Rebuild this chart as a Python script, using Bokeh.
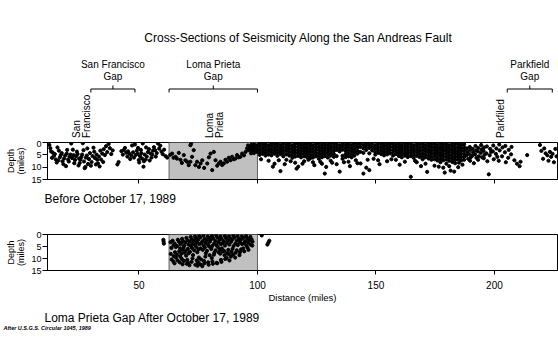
import math
from bokeh.plotting import figure
from bokeh.layouts import column
from bokeh.models import Range1d, FixedTicker, ColumnDataSource
from bokeh.embed import file_html
from bokeh.resources import INLINE
from bokeh.core.properties import value

FONT = "Liberation Sans"

# ---------------- texts ----------------
title_text = "Cross-Sections of Seismicity Along the San Andreas Fault"
before_caption = "Before October 17, 1989"
after_caption = "Loma Prieta Gap After October 17, 1989"
source_note = "After U.S.G.S. Circular 1045, 1989"
x_axis_title = "Distance (miles)"
y_axis_title = "Depth\n(miles)"

# ---------------- axes ----------------
dist_ticks = [50, 100, 150, 200]
depth_ticks = [0, 5, 10, 15]
dist_min, dist_max = 11.4, 226.6
depth_max = 15

# ---------------- seismic gaps & places ----------------
gap_label_line1 = ["San Francisco", "Loma Prieta", "Parkfield"]
gap_label_line2 = ["Gap", "Gap", "Gap"]
gap_start = [29.7, 62.7, 205.4]
gap_end = [48.3, 100.0, 224.4]

place_lines = [["San", "Francisco"], ["Loma", "Prieta"], ["Parkfiled"]]
place_dist = [25.7, 82.0, 202.7]

loma_gap_start, loma_gap_end = 62.7, 100.0

# ---------------- earthquakes before Oct 17, 1989 (distance, depth) ----------------
sf_before = [(12.2,1.0),(12.6,2.3),(12.9,3.6),(13.3,6.2),(13.6,4.1),(14.1,5.4),(14.5,4.7),(14.9,6.9),
             (15.3,8.1),(15.6,2.0),(15.9,7.3),(16.2,3.3),(16.6,6.0),(17.0,5.1),(17.4,4.3),(17.7,7.6),
             (18.1,8.8),(18.4,6.5),(18.8,5.3),(19.2,9.6),(19.5,4.5),(19.7,3.0),(20.1,6.9),(20.4,7.7),
             (20.7,5.7),(21.1,4.9),(21.4,0.4),(21.8,6.3),(22.1,2.9),(22.4,5.1),(22.7,8.4),(23.0,7.1),
             (23.4,5.6),(23.8,3.7),(24.1,4.7),(24.5,9.3),(24.7,6.5),(25.0,8.3),(25.3,7.0),(25.7,5.9),
             (26.0,4.9),(26.3,0.3),(26.6,3.1),(26.8,7.7),(27.1,10.4),(27.4,9.9),(27.6,6.1),(28.0,5.3),
             (28.2,2.4),(28.5,8.7),(28.9,6.7),(29.3,4.3),(29.7,9.4),(30.0,7.9),(30.4,5.5),(30.8,2.1),
             (31.1,3.7),(31.4,6.3),(31.8,8.9),(32.1,4.9),(32.4,7.0),(32.7,8.5),(33.1,5.7),(33.4,9.7),
             (33.7,3.3),(34.0,6.9),(34.5,4.5),(34.9,7.9),(35.1,2.7),(35.6,5.1),(36.1,1.5),(36.6,3.9),
             (37.2,0.6),(37.7,2.3),(38.3,4.7),(38.9,3.2)]

mid_before = [(40.9,8.9),(41.4,7.9),(42.6,3.5),(43.2,4.9),(43.6,3.0),(44.1,2.2),(44.6,4.1),(45.1,5.7),
              (45.4,3.6),(45.9,4.5),(46.3,6.7),(46.8,5.3),(47.1,1.2),(47.5,4.0),(47.9,6.1),(48.3,0.8),
              (48.7,5.0),(49.1,3.3),(49.4,4.6),(49.6,2.2),(49.9,7.1),(50.1,8.1),(50.4,5.5),(50.8,3.0),
              (51.0,4.3),(51.3,6.5),(51.6,0.4),(51.9,9.8),(52.1,7.6),(52.4,4.9),(52.8,6.9),(53.0,2.0),
              (53.3,5.7),(53.8,3.9),(54.2,2.7),(54.5,7.3),(54.9,4.5),(55.3,6.1),(55.6,4.9),(55.9,3.3),
              (56.3,1.9),(56.8,3.1),(57.1,5.7),(57.5,4.3),(58.0,0.4),(58.5,2.5),(59.0,1.3),(59.5,3.7),
              (60.0,4.7),(60.6,2.9),(61.2,5.5),(61.9,6.1)]

lp_before = [(63.2,5.0),(64.0,4.5),(64.6,6.2),(65.4,5.8),(66.0,6.5),(66.8,4.2),(67.5,7.0),(68.1,8.3),
             (68.9,5.1),(69.6,7.2),(70.3,7.8),(71.0,9.2),(71.7,7.8),(71.7,1.1),(72.0,0.4),(72.4,5.8),
             (73.1,3.1),(73.8,9.2),(74.5,7.8),(75.3,9.9),(76.0,8.5),(76.7,7.2),(77.5,10.3),(78.8,8.5),
             (79.5,6.0),(80.2,4.5),(80.9,11.2),(81.6,3.8),(82.3,7.2),(83.0,9.4),(83.7,8.5),(84.4,7.8),
             (85.1,9.1),(85.8,8.5),(86.5,7.0),(87.2,7.8),(87.9,6.2),(88.6,7.2),(89.3,5.8),(90.0,6.8),
             (90.7,6.5),(91.4,5.1),(92.1,6.0),(92.8,5.8),(93.5,4.5),(94.3,5.2),(95.0,3.8),(95.6,2.4),
             (96.3,3.1),(97.0,1.8),(97.3,4.4),(97.8,3.8),(98.2,2.4),(96.0,1.2),(96.8,2.6),(97.5,0.8),
             (98.0,3.3)]

# dense central band, written as (distance, [depths at that distance])
band_west = [(98.5,[0.6,1.9,3.2,4.3]),(99.7,[1.2,2.5,3.8]),(100.9,[0.4,1.6,2.9,4.1,5.0]),
             (102.2,[0.9,2.2,3.4,4.6]),(103.4,[0.5,1.7,3.0,4.2,5.3]),(104.7,[1.1,2.4,3.6,4.9,7.4]),
             (105.9,[0.3,1.5,2.8,4.0,5.2]),(107.2,[0.8,2.1,3.3,4.5,8.6]),(108.4,[0.4,1.6,2.9,4.1,5.4]),
             (109.7,[1.0,2.3,3.5,4.7,11.6]),(110.9,[0.5,1.8,3.1,4.3,5.6]),(112.2,[0.9,2.2,3.4,4.8,7.0]),
             (113.4,[0.3,1.5,2.7,4.0,5.3]),(114.7,[1.1,2.4,3.6,4.9,6.2]),(115.9,[0.6,1.9,3.2,4.4,5.7,8.2]),
             (117.2,[0.4,1.6,2.9,4.1,5.4,9.8]),(118.4,[1.0,2.3,3.5,4.8,6.0]),(119.7,[0.5,1.8,3.0,4.3,5.6,7.6]),
             (120.9,[0.8,2.1,3.4,4.6,5.9]),(122.2,[0.3,1.5,2.8,4.0,5.2,6.4]),(123.4,[1.1,2.4,3.7,4.9,6.1,8.0]),
             (124.7,[0.6,1.9,3.1,4.4,5.6]),(125.9,[0.4,1.7,2.9,4.2,5.4,6.6]),(127.2,[0.9,2.2,3.5,4.7,6.0,8.6]),
             (128.4,[0.5,1.8,3.0,4.3,5.5,12.6]),(129.7,[1.0,2.3,3.6,4.8,6.1]),(130.9,[0.3,1.6,2.8,4.1,5.3,7.4]),
             (132.2,[0.8,2.1,3.4,4.6,5.8]),(133.4,[0.5,1.7,3.0,5.5,8.8]),(134.7,[1.1,2.4,3.6,11.8]),
             (135.9,[0.4,1.6,2.9,5.4,6.6]),(137.2,[0.9,2.2,3.4,4.7,5.9]),(138.4,[0.6,1.8,3.1,4.4,5.6,7.8]),
             (139.7,[1.0,2.3,3.5,4.8,6.0]),(140.9,[0.3,1.5,2.8,4.0,5.3])]

band_east = [(142.2,[0.8,2.0,3.3,4.5,8.4]),(143.4,[0.5,1.8,3.8]),(144.7,[1.0,2.4,4.2,12.6]),
             (145.9,[0.4,1.6,3.0,10.2]),(147.2,[0.9,2.2,4.4,11.2]),(148.4,[0.5,1.8,3.2]),
             (149.7,[1.1,2.5,3.8,4.9]),(150.9,[0.4,1.7,2.9,4.2,7.2]),(152.2,[0.8,2.1,3.4,4.7]),
             (153.4,[0.3,1.5,2.8,4.0,5.2]),(154.7,[1.0,2.3,3.6,4.8,7.6]),(155.9,[0.6,1.9,3.1,4.4]),
             (157.2,[0.4,1.6,2.9,4.1,5.3]),(158.4,[0.9,2.2,3.5,4.7,7.0]),(159.7,[0.5,1.8,3.0,4.3,5.5]),
             (160.9,[1.0,2.3,3.6,4.8,6.0]),(162.2,[0.3,1.6,2.8,4.1,5.3,7.8]),(163.4,[0.8,2.1,3.4,4.6,5.9]),
             (164.7,[0.5,1.7,3.0,4.2,5.5,13.9]),(165.9,[1.1,2.4,3.6,4.9,6.2]),(167.2,[0.4,1.6,2.9,4.1,5.4,8.0]),
             (168.4,[0.9,2.2,3.4,4.7,5.9]),(169.7,[0.6,1.8,3.1,4.4,5.6,6.8]),(170.9,[1.0,2.3,3.5,4.8,6.0,8.6]),
             (172.2,[0.3,1.5,2.8,4.0,5.3,6.5]),(173.4,[0.8,2.0,3.3,4.5,5.8,7.0]),(174.7,[0.5,1.8,3.0,4.3,5.5,6.8,9.4]),
             (175.9,[1.0,2.3,3.6,4.8,6.1,7.3]),(177.2,[0.4,1.7,2.9,4.2,5.4,6.7,8.0]),(178.4,[0.9,2.2,3.4,4.7,5.9,7.2,10.2]),
             (179.7,[0.6,1.8,3.1,4.3,5.6,6.9,8.6]),(180.9,[1.1,2.4,3.6,4.9,6.1,7.4,9.6]),(182.2,[0.4,1.6,2.9,4.1,5.4,6.6,7.9]),
             (183.4,[0.8,2.1,3.4,4.6,5.9,7.1,8.4]),(184.7,[0.5,1.8,3.0,4.3,5.5,6.8,10.0]),(185.9,[1.0,2.3,3.5,4.8,6.0,7.3]),
             (187.2,[0.7,2.0,3.2,4.5,5.8,7.0])]

deep_before = [(101.5,6.8),(106.5,9.8),(109.0,7.2),(111.5,8.8),(114.0,7.6),(116.5,10.6),(119.0,8.6),
               (121.5,7.0),(124.0,9.2),(126.5,7.8),(129.0,9.9),(131.5,8.2),(136.5,8.0),(139.0,9.6),
               (141.5,7.2),(143.5,8.5),(146.5,7.0),(149.0,6.6),(151.5,8.8),(156.5,6.8),(160.0,9.0),
               (166.5,7.4),(169.0,9.6),(171.6,11.9),(176.5,9.8),(181.5,11.4),(186.5,9.0),(183.0,11.8),
               (179.0,12.2),(185.0,8.2)]

pf_before = [(188.4,2.4),(188.6,3.8),(188.2,5.2),(188.9,6.6),(189.6,1.8),(189.8,3.0),(189.4,4.6),(190.0,6.0),
             (189.7,7.4),(190.8,2.6),(191.0,4.0),(190.6,5.4),(191.3,8.4),(192.0,1.4),(192.2,3.2),(191.8,4.8),
             (192.4,6.2),(193.2,2.2),(193.0,3.6),(193.4,5.6),(193.1,7.0),(194.4,1.0),(194.6,2.8),(194.2,4.2),
             (194.8,6.0),(195.6,2.0),(195.4,3.4),(195.8,5.0),(195.5,6.4),(196.8,1.6),(196.6,4.4),(197.0,7.6),
             (197.6,12.9),(198.2,2.6),(198.0,5.2),(198.6,3.8),(199.5,1.2),(199.3,3.6),(199.7,6.8),(200.8,2.4),
             (200.6,4.6),(201.2,5.8),(202.0,0.8),(202.2,3.2),(201.8,7.4),(203.4,2.0),(203.2,5.6),(204.6,1.4),
             (204.4,4.0),(204.8,8.0),(206.0,3.0),(205.8,6.2),(207.2,1.8),(207.0,4.8),(208.4,7.2),(209.5,8.6),
             (210.6,9.6),(211.0,7.8),(213.8,5.1),(219.2,1.0),(219.8,3.4),(220.5,6.6),(221.0,2.4),(221.6,4.4),
             (222.3,5.2),(222.8,7.4),(223.4,3.8),(223.9,5.8),(224.5,4.6),(225.1,8.0),(225.7,2.6),(226.2,5.6)]

# ---------------- earthquakes after Oct 17, 1989 (distance, depth) ----------------
lp_after = [(63.3,3.2),(63.7,5.6),(63.4,8.1),(63.8,10.4),
            (64.2,2.6),(64.6,4.4),(64.7,9.0),(64.5,11.2),
            (65.1,3.8),(65.5,5.2),(65.2,7.4),(65.6,9.6),(65.0,12.0),
            (66.4,2.2),(66.0,4.8),(66.1,8.4),(66.3,10.8),
            (66.9,3.0),(67.3,5.8),(67.0,7.0),(67.4,9.2),(67.2,11.6),(67.5,4.0),
            (68.2,1.8),(67.8,3.6),(68.3,6.4),(67.9,8.0),(68.1,10.2),(68.4,12.4),
            (68.7,2.8),(69.1,4.6),(68.8,5.4),(69.2,7.6),(69.0,11.0),
            (70.0,1.4),(69.6,3.4),(69.7,6.8),(69.9,8.8),(70.2,12.2),
            (70.5,2.4),(70.9,4.2),(70.6,6.0),(71.0,7.8),(70.4,10.6),(70.8,11.8),
            (71.8,1.0),(71.4,3.0),(71.9,4.8),(71.5,7.2),(71.3,12.8),
            (72.3,2.0),(72.7,3.8),(72.4,5.6),(72.8,8.6),(72.6,10.0),(72.2,11.4),
            (73.6,0.8),(73.2,2.6),(73.7,4.4),(73.3,6.6),(73.8,12.6),
            (74.1,1.6),(74.5,3.2),(74.2,5.2),(74.6,7.4),(74.4,10.8),(74.7,13.0),
            (75.4,0.6),(75.0,2.2),(75.5,4.0),(75.1,6.2),(75.3,9.6),(74.9,11.6),
            (75.9,1.2),(76.3,3.6),(76.0,5.8),(76.2,10.4),(75.8,12.4),
            (77.2,0.4),(76.8,2.8),(77.3,4.6),(76.9,6.4),(77.4,11.0),(76.7,13.2),
            (77.7,1.8),(78.1,3.4),(77.8,5.4),(78.2,7.8),(78.0,9.2),(77.6,12.0),
            (79.0,0.8),(78.6,2.4),(79.1,4.2),(78.7,6.8),(79.2,11.6),
            (79.5,1.4),(79.9,3.0),(79.6,5.0),(79.8,8.6),(79.4,12.6),
            (80.8,0.6),(80.4,2.0),(80.9,4.8),(80.5,6.0),(80.7,9.8),(81.0,11.2),
            (81.3,1.6),(81.7,3.8),(81.8,7.6),(81.6,8.4),(81.2,12.2),
            (82.6,0.4),(82.2,2.6),(82.7,4.4),(82.3,6.6),(82.8,11.8),
            (83.1,1.2),(83.5,3.2),(83.2,5.2),(83.6,7.4),(83.0,12.0),
            (84.4,0.8),(84.0,2.2),(84.5,4.0),(84.1,6.2),(84.3,8.0),(84.6,10.6),
            (84.9,1.8),(85.3,3.6),(85.0,5.8),(85.4,7.0),(84.8,11.4),
            (86.2,0.6),(85.8,2.8),(86.3,4.6),(85.9,6.8),(86.1,8.6),(86.4,10.2),
            (86.7,1.4),(87.1,3.4),(87.2,7.8),(87.0,9.8),
            (88.0,0.8),(87.6,2.4),(88.1,4.2),(87.7,6.4),(87.9,8.2),(88.2,10.8),
            (88.5,1.6),(88.9,3.0),(89.0,7.2),(88.8,9.2),
            (89.8,0.4),(89.4,2.0),(89.9,4.8),(89.5,6.0),(89.7,8.4),
            (90.3,1.2),(90.7,3.8),(90.8,7.6),(90.6,9.6),
            (91.6,0.6),(91.2,2.6),(91.7,4.4),(91.3,6.6),
            (92.1,1.8),(92.5,3.2),(92.6,7.4),(92.4,8.6),
            (93.4,0.8),(93.0,2.2),(93.5,4.0),(93.1,6.2),
            (93.9,1.4),(94.3,3.6),(94.0,5.8),(94.4,7.0),
            (95.2,0.6),(94.8,2.8),(95.3,4.6),
            (95.7,1.6),(96.1,3.4),(95.8,5.4),(96.2,6.4),
            (97.0,1.0),(96.6,2.4),(97.1,4.2),
            (97.5,2.0),(97.9,3.0),(97.8,4.6)]

outside_after = [(60.3,2.2),(60.4,3.0),(60.5,3.8),(101.8,0.4),(104.2,4.2),(104.6,3.4),(105.0,2.6)]

# ---------------- assemble sources ----------------
def expand(cols):
    return [(d, z) for d, zs in cols for z in zs]

before_pts = sf_before + mid_before + lp_before + expand(band_west) + expand(band_east) + deep_before + pf_before
after_pts = lp_after + outside_after

src_before = ColumnDataSource(dict(dist=[p[0] for p in before_pts], depth=[p[1] for p in before_pts]))
src_after = ColumnDataSource(dict(dist=[p[0] for p in after_pts], depth=[p[1] for p in after_pts]))

# ---------------- layout ----------------
W = 558
LEFT, RIGHT = 47, 1
H_A, H_B, H_C, H_D, H_E = 140, 49, 36, 80, 38
DOT = 3.2

xr = Range1d(dist_min, dist_max)


def blank(height, x_range, left, right, free=False):
    p = figure(width=W, height=height, x_range=x_range, y_range=Range1d(height, 0),
               x_axis_type=None, y_axis_type=None, toolbar_location=None,
               output_backend="svg", min_border=0,
               min_border_left=left, min_border_right=right)
    p.outline_line_color = None
    p.background_fill_color = "white"
    p.border_fill_color = "white"
    if free and "frame_align" in p.properties():
        p.frame_align = False
    return p


def txt(p, x, y, s, size, align="left", baseline="middle", angle=0.0, style="normal"):
    p.text(x=[x], y=[y], text=[s], angle=angle, text_font=value(FONT),
           text_font_size=value(size), text_align=align, text_baseline=baseline,
           text_color="black", text_font_style=style)


# --- A: title, gap brackets and place names
pa = blank(H_A, xr, LEFT, RIGHT)
txt(pa, (dist_min + dist_max) / 2 - 1.6, 37, title_text, "12px", align="center")

BR_Y = 88.5
x0, y0, x1, y1 = [], [], [], []
for s, e in zip(gap_start, gap_end):
    c = (s + e) / 2
    x0 += [s, s, e, c]
    y0 += [BR_Y, BR_Y, BR_Y, BR_Y]
    x1 += [e, s, e, c]
    y1 += [BR_Y, BR_Y + 3.5, BR_Y + 3.5, BR_Y - 3.5]
pa.segment(x0=x0, y0=y0, x1=x1, y1=y1, line_color="black", line_width=1)
for s, e, l1, l2 in zip(gap_start, gap_end, gap_label_line1, gap_label_line2):
    c = (s + e) / 2
    txt(pa, c, 64, l1, "10px", align="center")
    txt(pa, c, 75.5, l2, "10px", align="center")
for lines, d in zip(place_lines, place_dist):
    n = len(lines)
    for i, s in enumerate(lines):
        txt(pa, d + (i - (n - 1) / 2) * 4.3, 137.5, s, "10px", align="left", angle=math.pi / 2)


# --- panels
def panel(height, top, bottom, src, show_labels):
    p = figure(width=W, height=height, x_range=xr, y_range=Range1d(depth_max, 0),
               toolbar_location=None, output_backend="svg", min_border=0,
               min_border_left=LEFT, min_border_right=RIGHT,
               min_border_top=top, min_border_bottom=bottom)
    p.background_fill_color = "white"
    p.border_fill_color = "white"
    p.outline_line_color = "black"
    p.outline_line_width = 1
    p.grid.visible = False
    p.quad(left=[loma_gap_start], right=[loma_gap_end], top=[0], bottom=[depth_max],
           fill_color="#c0c0c0", line_color="#606060", line_width=1)
    p.scatter("dist", "depth", source=src, size=DOT, color="black", marker="circle")

    ya = p.yaxis[0]
    ya.ticker = FixedTicker(ticks=depth_ticks)
    ya.axis_label = y_axis_title
    ya.axis_label_text_font = FONT
    ya.axis_label_text_font_size = "9px"
    ya.axis_label_text_font_style = "normal"
    ya.axis_label_text_color = "black"
    ya.axis_label_text_line_height = 1.0
    ya.axis_label_standoff = 2
    ya.major_label_text_font = FONT
    ya.major_label_text_font_size = "9px"
    ya.major_label_text_color = "black"
    ya.major_label_standoff = 1
    ya.major_tick_out = 5
    ya.major_tick_in = 0
    ya.minor_tick_line_color = None
    ya.axis_line_color = "black"
    ya.major_tick_line_color = "black"

    xa = p.xaxis[0]
    xa.ticker = FixedTicker(ticks=dist_ticks)
    xa.major_tick_out = 4
    xa.major_tick_in = 0
    xa.minor_tick_line_color = None
    xa.axis_line_color = "black"
    xa.major_tick_line_color = "black"
    if show_labels:
        xa.major_label_text_font = FONT
        xa.major_label_text_font_size = "10px"
        xa.major_label_text_color = "black"
        xa.major_label_standoff = 6
        xa.axis_label = x_axis_title
        xa.axis_label_text_font = FONT
        xa.axis_label_text_font_size = "9.5px"
        xa.axis_label_text_font_style = "normal"
        xa.axis_label_text_color = "black"
        xa.axis_label_standoff = 0
    else:
        xa.major_label_text_font_size = "1px"
        xa.major_label_text_color = None
        xa.major_label_standoff = 0
    return p


pb = panel(H_B, 2, 10, src_before, False)

# caption strips span the whole page width (x in page pixels)
pc = blank(H_C, Range1d(0, W), 0, 0, free=True)
txt(pc, 44, 9, before_caption, "12px")

pd_ = panel(H_D, 9, 34, src_after, True)

pe = blank(H_E, Range1d(0, W), 0, 0, free=True)
txt(pe, 44, 12, after_caption, "12px")
txt(pe, 3, 22.5, source_note, "5.5px", style="bold italic")

layout = column(pa, pb, pc, pd_, pe, spacing=0)

with open("out.html", "w") as f:
    f.write(file_html(layout, INLINE))
